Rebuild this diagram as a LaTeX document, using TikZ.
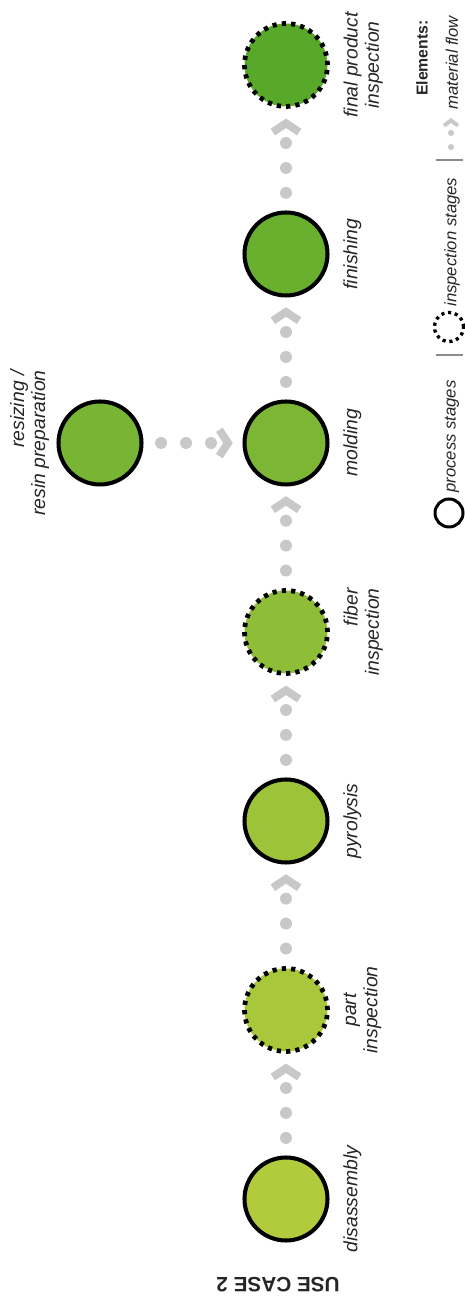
\documentclass[tikz,border=0pt]{standalone}
\usepackage{fontspec}
\setmainfont{Liberation Sans}
\usetikzlibrary{positioning,arrows.meta}

\definecolor{flowgray}{RGB}{200,200,200}
\definecolor{greenA}{RGB}{178,203,60}
\definecolor{greenB}{RGB}{168,199,58}
\definecolor{greenC}{RGB}{157,195,57}
\definecolor{greenD}{RGB}{142,189,56}
\definecolor{greenE}{RGB}{124,182,52}
\definecolor{greenF}{RGB}{121,181,52}
\definecolor{greenG}{RGB}{106,176,47}
\definecolor{greenH}{RGB}{88,168,42}

\tikzset{
  stage/.style={circle, minimum size=1.66cm, inner sep=0pt, line width=2.3pt, draw=black},
  process/.style={stage},
  inspection/.style={stage, line width=2.7pt, dash pattern=on 2.4pt off 2.9pt},
  lbl/.style={rotate=90, inner sep=0pt, align=center, text=black!85,
    font=\fontsize{11}{12}\selectfont\itshape},
  chevron/.style={draw=flowgray, line width=4.5pt, line cap=butt,
    dash pattern=on 0pt off 1000pt, shorten >=5.5pt,
    -{Straight Barb[length=5pt, width=15pt, line width=4.5pt]}},
  flow/.style={draw=flowgray, line width=6.8pt, line cap=round,
    dash pattern=on 0pt off 14.2pt, shorten <=10pt, shorten >=14pt,
    postaction={chevron}},
  legend/.style={rotate=90, inner sep=0pt, text=black!85,
    font=\fontsize{9.5}{11}\selectfont\itshape},
  legendtitle/.style={rotate=90, inner sep=0pt, text=black!85,
    font=\fontsize{9}{11}\selectfont\bfseries},
  legendchevron/.style={draw=flowgray, line width=2.2pt, line cap=butt,
    dash pattern=on 0pt off 1000pt, shorten >=0pt,
    -{Straight Barb[length=3pt, width=8pt, line width=2.2pt]}},
  legendflow/.style={draw=flowgray, line width=3.4pt, line cap=round,
    dash pattern=on 0pt off 8pt, shorten >=6pt,
    postaction={legendchevron}},
  separator/.style={draw=black!45, line width=1.2pt}
}

\begin{document}
\begin{tikzpicture}[node distance=3.78cm, auto]
    \useasboundingbox (0,0) rectangle (9.3,26.04);

    % stages
    \node[process, fill=greenA] (dis) at (5.72,2.06) {};
    \node[inspection, fill=greenB, above of=dis] (part) {};
    \node[process, fill=greenC, above of=part] (pyro) {};
    \node[inspection, fill=greenD, above of=pyro] (fiber) {};
    \node[process, fill=greenE, above of=fiber] (mold) {};
    \node[process, fill=greenF, left of=mold, node distance=3.72cm] (resin) {};
    \node[process, fill=greenG, above of=mold] (fin) {};
    \node[inspection, fill=greenH, above of=fin] (final) {};

    % labels
    \node[lbl, right=2.7mm of dis, anchor=north] (disl) {disassembly};
    \node[lbl, right=2.7mm of part, anchor=north] (partl) {part\\inspection};
    \node[lbl, right=2.7mm of pyro, anchor=north] (pyrol) {pyrolysis};
    \node[lbl, align=right, right=2.7mm of fiber, anchor=north] (fiberl) {fiber\\inspection};
    \node[lbl, right=2.7mm of mold, anchor=north] (moldl) {molding};
    \node[lbl, align=right, left=1.4mm of resin, anchor=south] (resinl) {resizing /\\resin preparation};
    \node[lbl, right=2.7mm of fin, anchor=north] (finl) {finishing};
    \node[lbl, right=2.7mm of final, anchor=north] (finall) {final product\\inspection};

    % material flow
    \draw[flow] (dis) -- (part);
    \draw[flow] (part) -- (pyro);
    \draw[flow] (pyro) -- (fiber);
    \draw[flow] (fiber) -- (mold);
    \draw[flow] (resin) -- (mold);
    \draw[flow] (mold) -- (fin);
    \draw[flow] (fin) -- (final);

    % title
    \node[rotate=180, inner sep=0pt, text=black!85, font=\fontsize{11.8}{13}\selectfont\bfseries]
      (usecase) at (5.56,0.34) {USE CASE 2};

    % legend
    \node[process, minimum size=0.56cm, line width=1.7pt] (proclegend) at (8.98,15.78) {};
    \node[legend, anchor=west] (proctext) at (9.04,16.18) {process stages};
    \draw[separator] (8.72,18.94) -- (9.26,18.94);
    \node[inspection, minimum size=0.58cm, line width=1.9pt, dash pattern=on 1.8pt off 2.1pt]
      (insplegend) at (8.98,19.50) {};
    \node[legend, anchor=west] (insptext) at (9.04,19.90) {inspection stages};
    \draw[separator] (8.72,22.84) -- (9.26,22.84);
    \coordinate (flowa) at (9.02,23.10);
    \coordinate (flowb) at (9.02,23.68);
    \draw[legendflow] (flowa) -- (flowb);
    \node[legend, anchor=west] (flowtext) at (9.04,23.84) {material flow};
    \node[legendtitle, anchor=east] (elements) at (8.44,25.64) {Elements:};
\end{tikzpicture}
\end{document}
